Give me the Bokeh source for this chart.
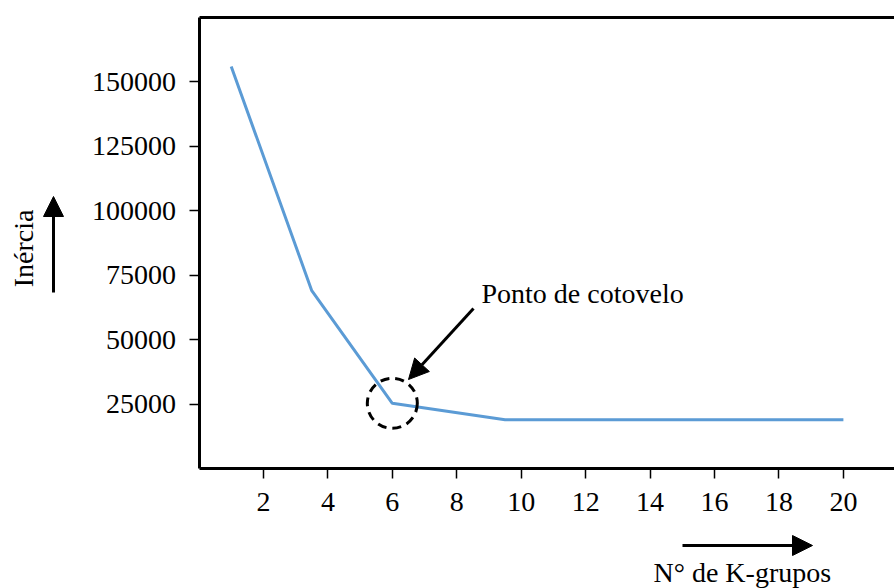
import math
from bokeh.plotting import figure
from bokeh.models import (Range1d, LinearAxis, FixedTicker, Label, Arrow,
                          NormalHead, ColumnDataSource, BasicTickFormatter)
from bokeh.embed import file_html
from bokeh.resources import INLINE

# ---- data ----
k_values = [1, 3.5, 6, 9.5, 20]
inertia = [156000, 69000, 25300, 18900, 18900]
elbow_index = 2
x_ticks = [2, 4, 6, 8, 10, 12, 14, 16, 18, 20]
y_ticks = [25000, 50000, 75000, 100000, 125000, 150000]
y_top = 175000
x_label = "N° de K-grupos"
y_label = "Inércia"
note_text = "Ponto de cotovelo"

FONT = "Liberation Serif"
FS = "28px"

W, H = 894, 588
X0, XS = 198.5, 32.22            # px of x=0, px per unit
Y0, YS = 468.0, 451.0 / y_top    # px of y=0, px per unit

x_start, x_end = -X0 / XS, (W - X0) / XS
y_start, y_end = -(H - Y0) / YS, Y0 / YS

p = figure(width=W, height=H, output_backend="svg", toolbar_location=None,
           x_range=Range1d(x_start, x_end), y_range=Range1d(y_start, y_end),
           x_axis_location=None, y_axis_location=None,
           min_border=0)
p.outline_line_color = None
p.xgrid.visible = False
p.ygrid.visible = False
p.background_fill_color = "white"
p.border_fill_color = "white"

# pixel -> data helpers for annotations
def dx(px):
    return (px - X0) / XS

def dy(py):
    return (Y0 - py) / YS

def style_axis(ax):
    ax.axis_line_color = "black"
    ax.axis_line_width = 3
    ax.major_tick_line_color = "black"
    ax.major_tick_line_width = 1.5
    ax.major_tick_in = 0
    ax.major_tick_out = 10
    ax.minor_tick_line_color = None
    ax.major_label_text_font = FONT
    ax.major_label_text_font_size = FS
    ax.major_label_text_color = "black"
    ax.formatter = BasicTickFormatter(use_scientific=False)

xa = LinearAxis(ticker=FixedTicker(ticks=x_ticks), fixed_location=0,
                bounds=(0, x_end))
style_axis(xa)
xa.major_label_standoff = 14
p.add_layout(xa, "below")

ya = LinearAxis(ticker=FixedTicker(ticks=y_ticks), fixed_location=0,
                bounds=(0, y_top))
style_axis(ya)
ya.major_label_standoff = 13
p.add_layout(ya, "left")

top = LinearAxis(ticker=FixedTicker(ticks=[]), fixed_location=y_top,
                 bounds=(0, x_end))
top.axis_line_color = "black"
top.axis_line_width = 3
top.major_tick_out = 0
top.major_tick_in = 0
top.minor_tick_line_color = None
top.major_label_standoff = 0
top.major_label_text_font_size = "0px"
p.add_layout(top, "above")

src = ColumnDataSource(dict(x=k_values, y=inertia))
p.line("x", "y", source=src, line_color="#5B9BD5", line_width=3)

# dashed circle around elbow
p.scatter([k_values[elbow_index]], [inertia[elbow_index]], marker="circle",
          size=50, fill_color=None, line_color="black", line_width=3,
          line_dash="9 6")

def arrow(x0, y0, x1, y1):
    return Arrow(end=NormalHead(size=20, fill_color="black", line_color="black"),
                 x_start=dx(x0), y_start=dy(y0), x_end=dx(x1), y_end=dy(y1),
                 line_width=3, line_color="black")

def label(x, y, text, **kw):
    return Label(x=dx(x), y=dy(y), text=text, text_font=FONT,
                 text_font_size=FS, text_color="black", **kw)

# labels
p.add_layout(label(481, 293, note_text, text_baseline="alphabetic",
                   text_align="left"))
p.add_layout(label(23, 248, y_label, angle=math.pi / 2,
                   text_align="center", text_baseline="middle"))
p.add_layout(label(653, 572, x_label, text_baseline="alphabetic",
                   text_align="left"))

# arrows
p.add_layout(arrow(473, 308, 408, 379))
p.add_layout(arrow(53, 292, 53, 196))
p.add_layout(arrow(682, 545, 812, 545))

open("out.html", "w").write(file_html(p, INLINE))
